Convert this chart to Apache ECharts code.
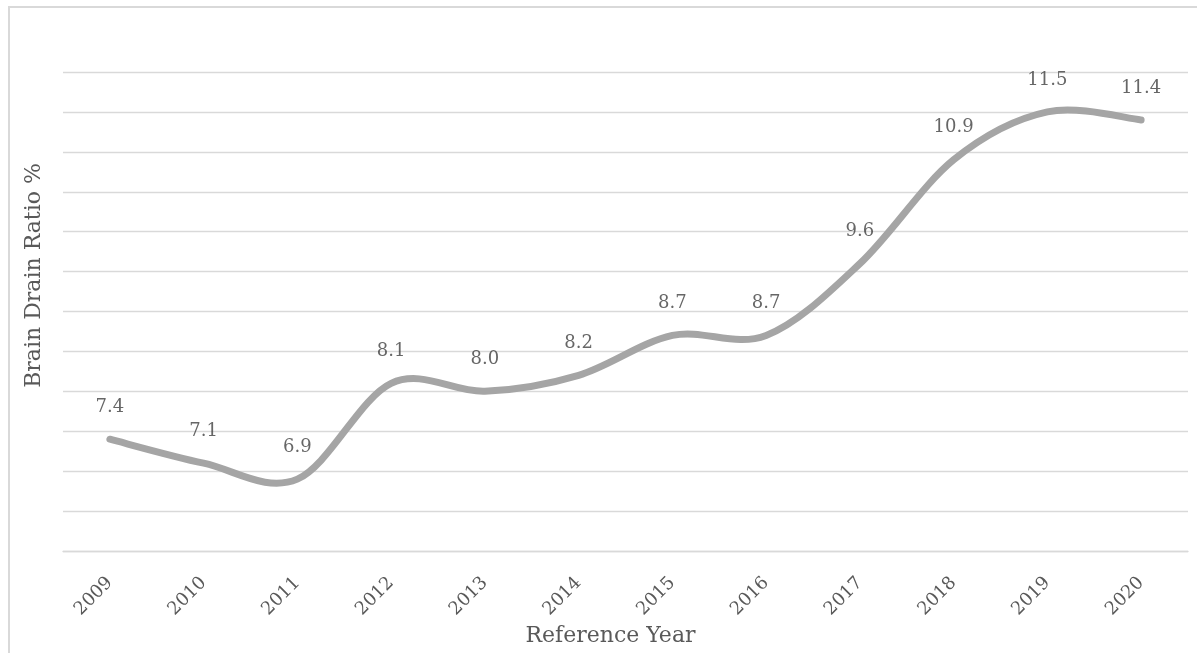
<!DOCTYPE html>
<html>
<head>
<meta charset="utf-8">
<script src="https://cdn.jsdelivr.net/npm/echarts@6/dist/echarts.min.js"></script>
<style>
  html, body { margin: 0; padding: 0; background: #fff; }
  #chart { width: 1197px; height: 653px; }
</style>
</head>
<body>
<div id="chart"></div>
<script>
// data
var years = ['2009', '2010', '2011', '2012', '2013', '2014', '2015', '2016', '2017', '2018', '2019', '2020'];
var ratio = [7.4, 7.1, 6.9, 8.1, 8.0, 8.2, 8.7, 8.7, 9.6, 10.9, 11.5, 11.4];

var serif = '"DejaVu Serif", "Liberation Serif", serif';
var lineColor = '#a5a5a5';
var chart = echarts.init(document.getElementById('chart'));

// spreadsheet-style smoothed line: cubic bezier through the points,
// control points at +-(next - prev) / 6 (so it may overshoot a little)
function renderSmooth(params, api) {
  if (params.dataIndex !== 0) return;
  var pts = ratio.map(function (v, i) { return api.coord([i, v]); });
  var d = 'M' + pts[0][0] + ' ' + pts[0][1];
  for (var i = 0; i < pts.length - 1; i++) {
    var p0 = pts[i - 1] || pts[i];
    var p1 = pts[i];
    var p2 = pts[i + 1];
    var p3 = pts[i + 2] || pts[i + 1];
    var c1x = p1[0] + (p2[0] - p0[0]) / 6;
    var c1y = p1[1] + (p2[1] - p0[1]) / 6;
    var c2x = p2[0] - (p3[0] - p1[0]) / 6;
    var c2y = p2[1] - (p3[1] - p1[1]) / 6;
    d += ' C' + c1x + ' ' + c1y + ' ' + c2x + ' ' + c2y + ' ' + p2[0] + ' ' + p2[1];
  }
  return {
    type: 'path',
    shape: { pathData: d },
    style: { fill: 'none', stroke: lineColor, lineWidth: 7, lineCap: 'round', lineJoin: 'round' }
  };
}

chart.setOption({
  backgroundColor: '#fff',
  animation: false,
  graphic: [{
    type: 'rect',
    shape: { x: 9, y: 7, width: 1400, height: 800 },
    style: { fill: 'none', stroke: '#d9d9d9', lineWidth: 2 },
    silent: true
  }],
  grid: { left: 63, right: 9, top: 72, bottom: 102 },
  xAxis: {
    type: 'category',
    data: years,
    boundaryGap: true,
    name: 'Reference Year',
    nameLocation: 'middle',
    nameGap: 74,
    nameTextStyle: { fontFamily: serif, fontSize: 22, color: '#595959', padding: [0, 30, 0, 0] },
    axisLine: { lineStyle: { color: '#d9d9d9', width: 1.3 } },
    axisTick: { show: false },
    axisLabel: { rotate: 45, margin: 29, fontFamily: serif, fontSize: 18, color: '#595959' }
  },
  yAxis: {
    type: 'value',
    min: 6,
    max: 12,
    interval: 0.5,
    name: 'Brain Drain Ratio %',
    nameLocation: 'middle',
    nameGap: 18,
    nameTextStyle: { fontFamily: serif, fontSize: 22, color: '#595959', padding: [0, 0, 0, 72] },
    axisLine: { show: false },
    axisTick: { show: false },
    axisLabel: { show: false },
    splitLine: { lineStyle: { color: '#d9d9d9', width: 1.3 } }
  },
  series: [{
    type: 'custom',
    coordinateSystem: 'cartesian2d',
    data: ratio.map(function (v, i) { return [i, v]; }),
    encode: { x: 0, y: 1 },
    renderItem: renderSmooth,
    silent: true,
    z: 2
  }, {
    type: 'scatter',
    data: ratio.map(function (v, i) { return [i, v]; }),
    symbolSize: 6,
    itemStyle: { color: 'rgba(0,0,0,0)' },
    z: 3,
    label: {
      show: true,
      position: 'top',
      distance: 20,
      fontFamily: serif,
      fontSize: 18,
      color: '#404040',
      formatter: function (p) { return p.value[1].toFixed(1); }
    }
  }]
});
</script>
</body>
</html>
